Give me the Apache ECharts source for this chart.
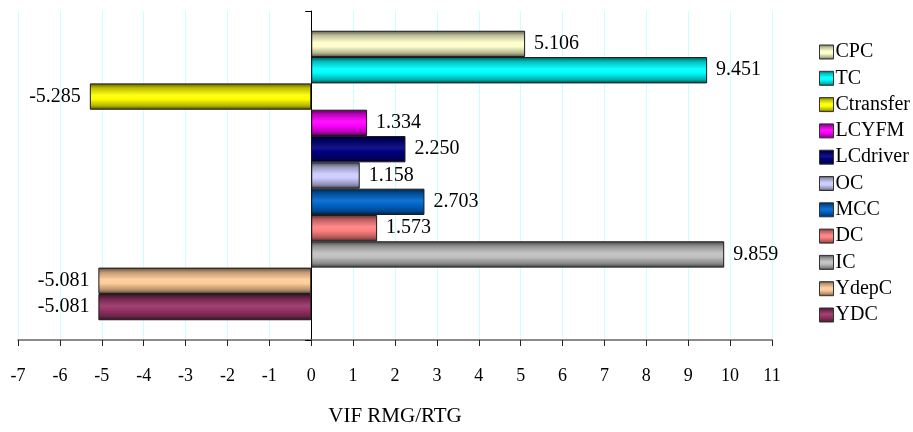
<!DOCTYPE html>
<html>
<head>
<meta charset="utf-8">
<script src="https://cdn.jsdelivr.net/npm/echarts@6/dist/echarts.min.js"></script>
<style>
  html, body { margin: 0; padding: 0; background: #ffffff; }
  #chart { width: 913px; height: 432px; }
</style>
</head>
<body>
<div id="chart"></div>
<script>
// Series names (one bar each), their VIF values and fill colours
const seriesNames = ['CPC', 'TC', 'Ctransfer', 'LCYFM', 'LCdriver', 'OC', 'MCC', 'DC', 'IC', 'YdepC', 'YDC'];
const seriesValues = [5.106, 9.451, -5.285, 1.334, 2.250, 1.158, 2.703, 1.573, 9.859, -5.081, -5.081];
const seriesColors = ['#FFFFCC', '#00FFFF', '#FFFF00', '#FF00FF', '#000080', '#CCCCFF', '#0066CC', '#FF8080', '#C0C0C0', '#FFCC99', '#993366'];
// Value axis range and tick step
const xMin = -7;
const xMax = 11;
const xStep = 1;
const axisTitle = 'VIF RMG/RTG';
const categoryName = ['VIF'];

const FONT = '"Liberation Serif", "DejaVu Serif", serif';

// darken (f < 1) or lighten (f > 1) a hex colour
function shade(hex, f) {
  const n = parseInt(hex.slice(1), 16);
  let rgb = [(n >> 16) & 255, (n >> 8) & 255, n & 255];
  rgb = rgb.map(v => f <= 1 ? Math.round(v * f) : Math.round(v + (255 - v) * (f - 1)));
  return 'rgb(' + rgb.join(',') + ')';
}

// cylinder-like shading across the bar thickness
function barFill(c) {
  return new echarts.graphic.LinearGradient(0, 0, 0, 1, [
    { offset: 0, color: shade(c, 0.35) },
    { offset: 0.18, color: shade(c, 0.75) },
    { offset: 0.45, color: shade(c, 1.08) },
    { offset: 0.6, color: c },
    { offset: 0.85, color: shade(c, 0.7) },
    { offset: 1, color: shade(c, 0.3) }
  ]);
}

const series = seriesNames.map((name, i) => ({
  name: name,
  type: 'bar',
  barGap: '0%',
  barCategoryGap: '12%',
  itemStyle: { color: barFill(seriesColors[i]), borderColor: '#1a1a1a', borderWidth: 1 },
  label: {
    show: true,
    distance: 9,
    color: '#000',
    fontFamily: FONT,
    fontSize: 20,
    formatter: p => p.value.toFixed(3)
  },
  data: [{
    value: seriesValues[i],
    label: { position: seriesValues[i] < 0 ? 'left' : 'right' }
  }]
}));

const chart = echarts.init(document.getElementById('chart'), null, { renderer: 'canvas' });
chart.setOption({
  animation: false,
  backgroundColor: '#ffffff',
  grid: { left: 18, right: 141, top: 11, bottom: 91, containLabel: false },
  legend: {
    orient: 'vertical',
    left: 814,
    top: 37,
    itemWidth: 14,
    itemHeight: 14,
    itemGap: 6.3,
    icon: 'rect',
    itemStyle: { borderColor: '#333', borderWidth: 1 },
    textStyle: { fontFamily: FONT, fontSize: 20, color: '#000', lineHeight: 20, padding: [0, 0, 0, -3] },
    data: seriesNames
  },
  xAxis: {
    type: 'value',
    min: xMin,
    max: xMax,
    interval: xStep,
    name: axisTitle,
    nameLocation: 'middle',
    nameGap: 66,
    nameTextStyle: { fontFamily: FONT, fontSize: 21, color: '#000' },
    axisLine: { show: true, onZero: false, lineStyle: { color: '#666', width: 1.5 } },
    axisTick: { show: true, length: 6, lineStyle: { color: '#222' } },
    axisLabel: { fontFamily: FONT, fontSize: 18, color: '#000', margin: 27 },
    splitLine: { show: true, lineStyle: { color: '#CCFFFF', width: 1 } }
  },
  yAxis: {
    type: 'category',
    data: categoryName,
    position: 'left',
    axisLine: { show: true, onZero: true, lineStyle: { color: '#000', width: 1 } },
    axisTick: { show: true, length: 6, lineStyle: { color: '#000' } },
    axisLabel: { show: false },
    splitLine: { show: false }
  },
  series: series
});
</script>
</body>
</html>
